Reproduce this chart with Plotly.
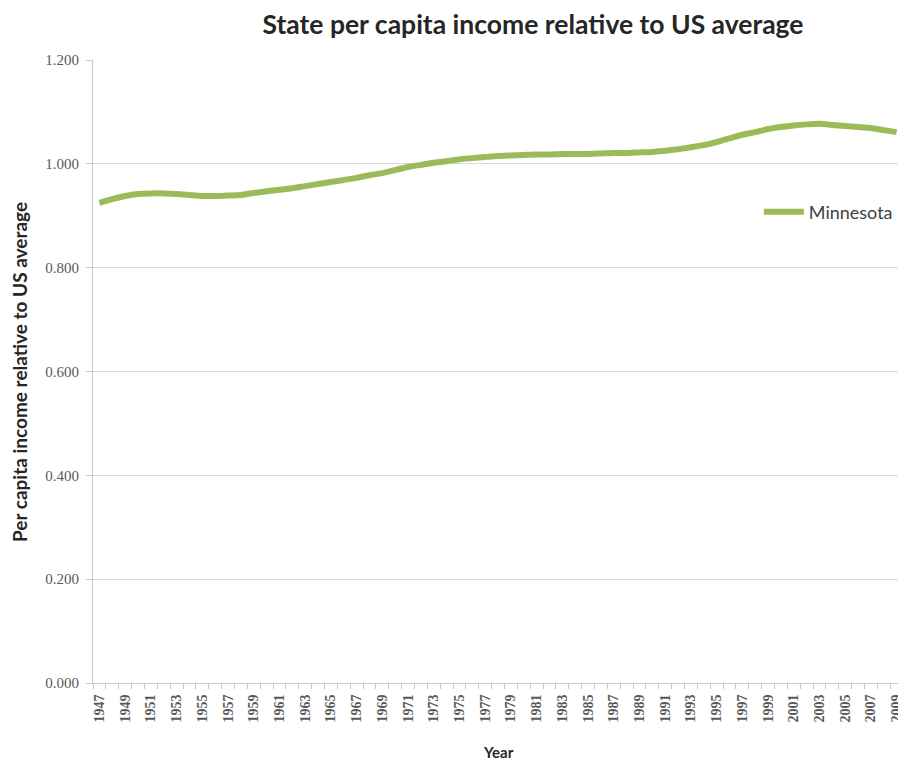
import plotly.graph_objects as go

years = list(range(1947, 2010))
minnesota = [
    0.925, 0.932, 0.938, 0.942, 0.943, 0.943, 0.942, 0.940, 0.938, 0.938,
    0.939, 0.940, 0.944, 0.947, 0.950, 0.953, 0.957, 0.961, 0.965, 0.969,
    0.973, 0.978, 0.982, 0.988, 0.994, 0.998, 1.002, 1.005, 1.009, 1.011,
    1.013, 1.015, 1.016, 1.017, 1.018, 1.018, 1.019, 1.019, 1.019, 1.020,
    1.021, 1.021, 1.022, 1.023, 1.025, 1.028, 1.032, 1.036, 1.042, 1.049,
    1.056, 1.061, 1.067, 1.071, 1.074, 1.076, 1.077, 1.075, 1.073, 1.071,
    1.069, 1.065, 1.061,
]
tick_years = list(range(1947, 2010, 2))
y_ticks = [0.0, 0.2, 0.4, 0.6, 0.8, 1.0, 1.2]

W, H = 898, 763  # page body has an 8px margin

fig = go.Figure()
fig.add_trace(go.Scatter(
    x=years, y=minnesota, mode="lines", name="Minnesota",
    line=dict(color="#9BBB59", width=6, shape="spline", smoothing=0.6),
))

fig.update_layout(
    width=W, height=H,
    paper_bgcolor="white", plot_bgcolor="white",
    margin=dict(l=85, r=3, t=52, b=88, autoexpand=False),
    title=dict(text="<b>State per capita income relative to US average</b>",
               x=525 / W, xanchor="center", y=1 - 17 / H, yanchor="middle",
               font=dict(family="Lato", size=26.5, color="#262626")),
    legend=dict(x=0.822, y=0.756, xanchor="left", yanchor="middle",
                bgcolor="rgba(0,0,0,0)",
                font=dict(family="Lato", size=18, color="#404040"),
                itemwidth=40),
    showlegend=True,
    font=dict(family="Liberation Serif"),
    annotations=[
        dict(text="<b>Per capita income relative to US average</b>",
             x=-0.0915, y=0.499, xref="paper", yref="paper",
             xanchor="center", yanchor="middle", textangle=-90, showarrow=False,
             font=dict(family="Lato", size=19, color="#262626")),
        dict(text="<b>Year</b>",
             x=0.5, y=-0.1108, xref="paper", yref="paper",
             xanchor="center", yanchor="middle", showarrow=False,
             font=dict(family="Lato", size=15, color="#262626")),
    ],
)

fig.update_xaxes(
    range=[1946.5, 2009.5], automargin=False,
    tickmode="array", tickvals=tick_years,
    ticktext=[f"<b>{y}</b>" for y in tick_years],
    tickangle=-90, tickfont=dict(family="Liberation Serif", size=14, color="#595959"),
    ticklabelstandoff=5,
    showgrid=False, showline=True, linecolor="#c8c8c8", linewidth=1,
    ticks="", ticklen=0,
    minor=dict(tickmode="linear", tick0=1946.5, dtick=1, ticks="outside",
               ticklen=5, tickcolor="#c8c8c8", showgrid=False),
    zeroline=False,
)

fig.update_yaxes(
    range=[0, 1.2], automargin=False,
    tickmode="array", tickvals=y_ticks, ticktext=[f"{v:.3f}" for v in y_ticks],
    tickfont=dict(family="Liberation Serif", size=15, color="#595959"),
    ticklabelstandoff=4,
    showgrid=True, gridcolor="#d9d9d9", gridwidth=1,
    showline=True, linecolor="#c8c8c8", linewidth=1,
    ticks="outside", ticklen=6, tickcolor="#c8c8c8",
    zeroline=False,
)

fig.write_html("out.html")
